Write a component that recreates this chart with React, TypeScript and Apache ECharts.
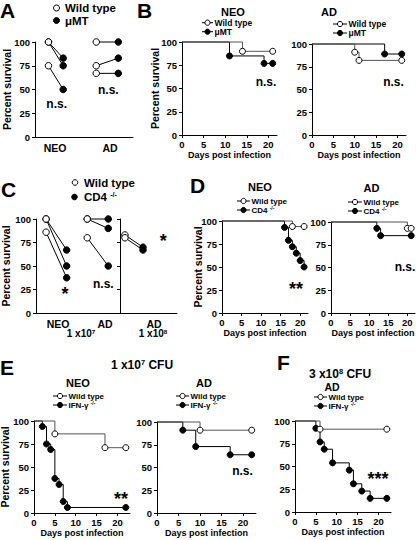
import React, { useEffect, useRef } from "react";
import * as echarts from "echarts";

const FONT = "'Liberation Sans', Arial, Helvetica, sans-serif";

// ---------- Panel A (paired survival, WT vs muMT) ----------
const aGroups = ["NEO", "AD"];
const aNeoWT = [100, 100, 75];
const aNeoMT = [83, 75, 50];
const aAdWT = [100, 75, 67];
const aAdMT = [100, 83, 67];

// ---------- Panel C (paired survival, WT vs CD4-/-) ----------
const cGroups = ["NEO", "AD", "AD"];
const cNeoWT = [100, 100, 86];
const cNeoCD4 = [67, 50, 37.5];
const cAdWT = [100, 100, 80];
const cAdCD4 = [100, 90, 50];
const cAd8WT = [83, 80];
const cAd8CD4 = [70, 67];

// ---------- Kaplan-Meier events [day, percent] ----------
const bNeoWT = [[14, 90], [21, 90]];
const bNeoMT = [[11, 85], [19, 77], [21, 77]];
const bAdWT = [[10, 91], [11, 82], [21, 82]];
const bAdMT = [[17, 89], [21, 89]];
const dNeoWT = [[18, 94], [21, 94]];
const dNeoCD4 = [[16, 93], [17, 79], [18, 72], [19, 65], [20, 57], [21, 50]];
const dAdWT = [[20, 93], [21, 93]];
const dAdCD4 = [[12, 93], [13, 85], [21, 85]];
const eNeoWT = [[5, 86], [17, 71], [22, 71]];
const eNeoIFN = [[2, 94], [3, 75], [4, 69], [5, 37.5], [6, 31], [7, 12.5], [8, 6], [22, 6]];
const eAdWT = [[10, 91], [22, 91]];
const eAdIFN = [[6, 91], [9, 73], [17, 64], [22, 64]];
const fAdWT = [[6, 91], [22, 91]];
const fAdIFN = [[5, 92], [6, 77], [7, 69], [9, 54], [13, 46], [14, 31], [16, 23], [18, 15], [22, 15]];

const dayTicks = [0, 5, 10, 15, 20];
const yName = "Percent survival";
const xName = "Days post infection";

const lbl = { color: "#000", fontFamily: FONT, fontWeight: "bold" as const, fontSize: 9.5 };
const axLine = { show: true, onZero: false, lineStyle: { color: "#000", width: 1 } };
const axTick = { show: true, length: 3, lineStyle: { color: "#000", width: 1 } };

function yAx(gridIndex: number, name?: string, nameGap?: number, showLabel = true) {
  return {
    type: "value", gridIndex, min: 0, max: 100, interval: 25,
    axisLine: axLine, axisTick: axTick, splitLine: { show: false },
    axisLabel: { ...lbl, show: showLabel, margin: 5 },
    name, nameLocation: "middle", nameGap, nameRotate: 90, nameMoveOverlap: false,
    nameTextStyle: { fontFamily: FONT, fontWeight: "bold", fontSize: 10.5, color: "#000" },
  };
}
function dayAx(gridIndex: number, max: number, name?: string) {
  return {
    type: "value", gridIndex, min: 0, max, interval: 5,
    axisLine: axLine, axisTick: { ...axTick, customValues: dayTicks }, splitLine: { show: false },
    axisLabel: { ...lbl, margin: 4, customValues: dayTicks, formatter: (v: number) => (v % 5 === 0 ? String(v) : "") },
    name, nameLocation: "middle", nameGap: 15, nameMoveOverlap: false,
    nameTextStyle: { fontFamily: FONT, fontWeight: "bold", fontSize: 9, color: "#000" },
  };
}
function catAx(gridIndex: number, max: number, labelPos: number[], labels: string[]) {
  return {
    type: "value", gridIndex, min: 0, max,
    axisLine: axLine, axisTick: { show: false }, splitLine: { show: false },
    axisLabel: {
      ...lbl, fontSize: 10.5, margin: 5, customValues: labelPos,
      formatter: (v: number) => { const i = labelPos.findIndex((p) => Math.abs(p - v) < 1e-6); return i >= 0 ? labels[i] : ""; },
    },
  };
}

const openItem = { color: "#fff", borderColor: "#000", borderWidth: 1 };
const fillItem = { color: "#000", borderColor: "#000", borderWidth: 1 };

function pair(axis: number, x1: number, y1: number, x2: number, y2: number) {
  return {
    type: "line", xAxisIndex: axis, yAxisIndex: axis, clip: false, silent: true,
    symbol: "circle", symbolSize: 6.5,
    lineStyle: { color: "#000", width: 1 },
    data: [{ value: [x1, y1], itemStyle: openItem }, { value: [x2, y2], itemStyle: fillItem }],
    z: 3,
  };
}
function km(axis: number, events: number[][], wt: boolean) {
  return {
    type: "line", xAxisIndex: axis, yAxisIndex: axis, clip: false, silent: true, step: "end",
    symbol: "circle", symbolSize: 6,
    lineStyle: { color: wt ? "#555" : "#000", width: 1 },
    itemStyle: wt ? openItem : fillItem,
    data: [{ value: [0, 100], symbol: "none" }, ...events.map((e) => ({ value: e }))],
    z: wt ? 4 : 3,
  };
}

function T(x: number, y: number, text: string, size: number, align = "center", rich?: any) {
  return {
    type: "text", x, y, silent: true,
    style: {
      text, fill: "#000", fontFamily: FONT, fontWeight: "bold", fontSize: size,
      align, textAlign: align, verticalAlign: "middle", textVerticalAlign: "middle", rich,
    },
  };
}
function supRich(size: number) {
  return {
    sup: { fontFamily: FONT, fontWeight: "bold", fontSize: size * 0.62, fill: "#000", verticalAlign: "top" },
  };
}
function dot(x: number, y: number, r: number, filled: boolean) {
  return {
    type: "circle", silent: true, shape: { cx: x, cy: y, r },
    style: { fill: filled ? "#000" : "#fff", stroke: "#000", lineWidth: 1 },
  };
}
function kmLegend(x: number, y1: number, y2: number, len: number, size: number, mutLabel: string) {
  const cx = x + len / 2;
  return [
    { type: "line", silent: true, shape: { x1: x, y1, x2: x + len, y2: y1 }, style: { stroke: "#000", lineWidth: 1 } },
    dot(cx, y1, 2.6, false),
    T(x + len + 1.5, y1, "Wild type", size, "left"),
    { type: "line", silent: true, shape: { x1: x, y1: y2, x2: x + len, y2 }, style: { stroke: "#000", lineWidth: 1 } },
    dot(cx, y2, 2.6, true),
    T(x + len + 1.5, y2, mutLabel, size, "left", supRich(size)),
  ];
}

const option: any = {
  animation: false,
  backgroundColor: "#fff",
  grid: [
    { left: 35, top: 42, width: 98, height: 95 },
    { left: 182, top: 42, width: 95, height: 93 },
    { left: 312, top: 44, width: 94, height: 91 },
    { left: 36, top: 219, width: 84, height: 94 },
    { left: 120, top: 219, width: 57, height: 94 },
    { left: 222, top: 221, width: 86, height: 92 },
    { left: 331, top: 222, width: 84, height: 91 },
    { left: 34, top: 421, width: 96, height: 92 },
    { left: 157, top: 422, width: 99, height: 91 },
    { left: 295, top: 421, width: 96, height: 91 },
  ].map((g) => ({ ...g, containLabel: false, outerBoundsMode: "none" })),
  xAxis: [
    catAx(0, 4, [0.82, 3.06], aGroups),
    dayAx(1, 22, xName),
    dayAx(2, 22, xName),
    catAx(3, 4, [1.05, 3.29], cGroups.slice(0, 2)),
    catAx(4, 3, [1.79], cGroups.slice(2)),
    dayAx(5, 22, xName),
    dayAx(6, 22, xName),
    dayAx(7, 23, xName),
    dayAx(8, 23, xName),
    dayAx(9, 23, xName),
  ],
  yAxis: [
    yAx(0, yName, 23),
    yAx(1, yName, 22),
    yAx(2),
    yAx(3, yName, 25),
    yAx(4, undefined, undefined, false),
    yAx(5, yName, 19),
    yAx(6),
    yAx(7, yName, 24),
    yAx(8),
    yAx(9),
  ],
  series: [
    ...aNeoWT.map((v, i) => pair(0, 0.55, v, 1.15, aNeoMT[i])),
    ...aAdWT.map((v, i) => pair(0, 2.5, v, 3.4, aAdMT[i])),
    ...cNeoWT.map((v, i) => pair(3, 0.48, v, 1.46, cNeoCD4[i])),
    ...cAdWT.map((v, i) => pair(3, 2.44, v, 3.44, cAdCD4[i])),
    ...cAd8WT.map((v, i) => pair(4, 0.26, v, 1.21, cAd8CD4[i])),
    km(1, bNeoMT, false), km(1, bNeoWT, true),
    km(2, bAdMT, false), km(2, bAdWT, true),
    km(5, dNeoCD4, false), km(5, dNeoWT, true),
    km(6, dAdCD4, false), km(6, dAdWT, true),
    km(7, eNeoIFN, false), km(7, eNeoWT, true),
    km(8, eAdIFN, false), km(8, eAdWT, true),
    km(9, fAdIFN, false), km(9, fAdWT, true),
  ],
  graphic: {
    elements: [
      // panel letters
      T(0, 10, "A", 21, "left"),
      T(137, 10, "B", 21, "left"),
      T(1, 189, "C", 21, "left"),
      T(190, 185, "D", 21, "left"),
      T(0, 367, "E", 21, "left"),
      T(277, 362, "F", 21, "left"),
      // A legend
      dot(56.5, 8, 3, false), T(65, 8, "Wild type", 11.5, "left"),
      dot(56.5, 20.5, 3, true), T(65, 20.5, "\u03bcMT", 11.5, "left"),
      T(56.7, 103.5, "n.s.", 12), T(108.3, 89.5, "n.s.", 12),
      // B
      T(233, 11.5, "NEO", 11), T(329, 11.5, "AD", 11),
      ...kmLegend(202, 22.7, 31.7, 11, 8.5, "\u03bcMT"),
      ...kmLegend(333, 24, 33, 14, 8.5, "\u03bcMT"),
      T(266, 82, "n.s.", 12), T(393.5, 82, "n.s.", 12),
      // C
      dot(75, 182.5, 2.8, false), T(84, 182.5, "Wild type", 11.5, "left"),
      dot(74.5, 197, 2.8, true), T(84, 197, "CD4 {sup|-/-}", 11.5, "left", supRich(11.5)),
      T(65, 294, "*", 18), T(163.3, 241, "*", 18), T(103.3, 283.5, "n.s.", 12),
      T(81, 333.5, "1 x10{sup|7}", 10, "center", supRich(10)),
      T(153, 333.5, "1 x10{sup|8}", 10, "center", supRich(10)),
      // D
      T(260, 186.5, "NEO", 11), T(371.5, 187.5, "AD", 11),
      ...kmLegend(237, 201, 210, 13, 8, "CD4 {sup|-/-}"),
      ...kmLegend(348, 202, 211, 14, 8, "CD4 {sup|-/-}"),
      T(296, 289, "**", 18), T(405, 267, "n.s.", 12),
      // E
      T(142, 365, "1 x10{sup|7} CFU", 12, "center", supRich(12)),
      T(78, 382.5, "NEO", 11), T(204, 382.5, "AD", 11),
      ...kmLegend(53, 396, 405, 14, 8, "IFN-\u03b3 {sup|-/-}"),
      ...kmLegend(176, 396, 405, 13, 8, "IFN-\u03b3 {sup|-/-}"),
      T(121, 499, "**", 18), T(242.5, 471, "n.s.", 12),
      // F
      T(340, 374, "3 x10{sup|8} CFU", 12, "center", supRich(12)),
      T(332, 386.5, "AD", 10.5),
      ...kmLegend(314, 397, 406, 13, 8, "IFN-\u03b3 {sup|-/-}"),
      T(378, 479, "***", 18),
    ],
  },
};

export default function App() {
  const ref = useRef<HTMLDivElement>(null);
  useEffect(() => {
    if (!ref.current) return;
    const chart = echarts.init(ref.current, undefined, { renderer: "svg", width: 416, height: 540 });
    chart.setOption(option);
    return () => chart.dispose();
  }, []);
  return (
    <div
      ref={ref}
      style={{ position: "fixed", left: 0, top: 0, width: 416, height: 540, background: "#fff" }}
    />
  );
}
